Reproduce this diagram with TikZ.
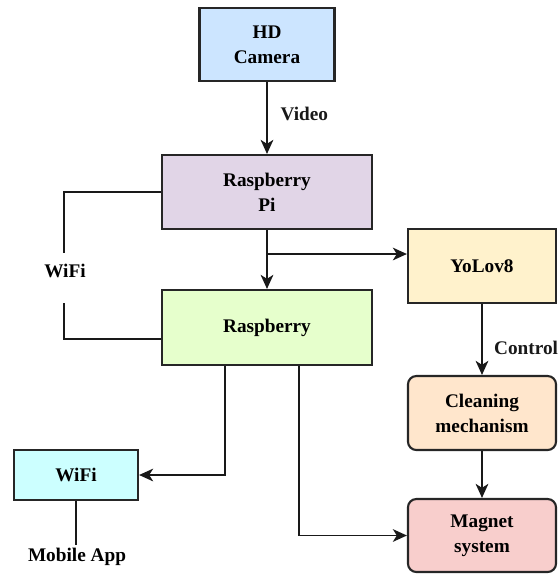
\documentclass[tikz,border=0pt]{standalone}
\usepackage{fontspec}
\setmainfont{Liberation Serif}
\usetikzlibrary{arrows.meta,calc}

\definecolor{camblue}{HTML}{CCE5FF}
\definecolor{pipurple}{HTML}{E1D5E7}
\definecolor{raspgreen}{HTML}{E6FFCC}
\definecolor{yoloyellow}{HTML}{FFF2CC}
\definecolor{cleanorange}{HTML}{FFE6CC}
\definecolor{magnetred}{HTML}{F8CECC}
\definecolor{wificyan}{HTML}{CCFFFF}

\begin{document}
\begin{tikzpicture}[x=0.025cm,y=-0.025cm,
	block/.style={draw=black!85,line width=1.5pt,align=center,inner sep=0pt,
		font=\fontsize{13.7}{17.8}\selectfont\bfseries},
	rblock/.style={block,rounded corners=6pt},
	lbl/.style={font=\fontsize{13.7}{17.8}\selectfont\bfseries,inner sep=2pt},
	link/.style={line width=1.35pt,black!90},
	arr/.style={link,-{Stealth[length=10pt,width=9pt,inset=2.8pt]}}]
		\useasboundingbox (0,0) rectangle (560,575);
		% blocks
		\node [block,fill=camblue,minimum width=3.375cm,minimum height=1.825cm] (cam) at (267,44.5) {HD\\Camera};
		\node [block,fill=pipurple,minimum width=5.25cm,minimum height=1.85cm] (rpi) at (267,192) {Raspberry\\Pi};
		\node [block,fill=raspgreen,minimum width=5.25cm,minimum height=1.875cm] (rasp) at (267,327.5) {Raspberry};
		\node [block,fill=yoloyellow,minimum width=3.7cm,minimum height=1.85cm] (yolo) at (482,266) {YoLov8};
		\node [rblock,fill=cleanorange,minimum width=3.7cm,minimum height=1.85cm] (clean) at (482,413) {Cleaning\\mechanism};
		\node [rblock,fill=magnetred,minimum width=3.7cm,minimum height=1.825cm] (magnet) at (482,535.5) {Magnet\\system};
		\node [block,fill=wificyan,minimum width=3.1cm,minimum height=1.25cm] (wifi) at (76,475) {WiFi};
		% free labels
		\node [lbl] (wlab) at (65,271) {WiFi};
		\node [lbl,anchor=base] (app) at (77,561) {Mobile App};
		\coordinate (wtop) at (64,253);
		\coordinate (wbot) at (64,303);
		\coordinate (br) at (267,254);
		% links
		\draw [arr] (cam) -- node[lbl,right,pos=0.45,xshift=7pt] {Video} (rpi);
		\draw [arr] (rpi) -- (rasp);
		\draw [arr] (br) -- (br -| yolo.west);
		\draw [link] (rpi.west) -| (wtop);
		\draw [link] (wbot) |- ($(rasp.west)+(0,11.5)$);
		\draw [arr] (yolo) -- node[lbl,right,pos=0.62,xshift=6pt] {Control} (clean);
		\draw [arr] (clean) -- (magnet);
		\draw [arr] ($(rasp.south)+(-42,0)$) |- (wifi.east);
		\draw [arr] ($(rasp.south)+(32,0)$) |- (magnet.west);
		\draw [link] (wifi.south) -- (wifi.south |- app.north);
	\end{tikzpicture}
\end{document}
